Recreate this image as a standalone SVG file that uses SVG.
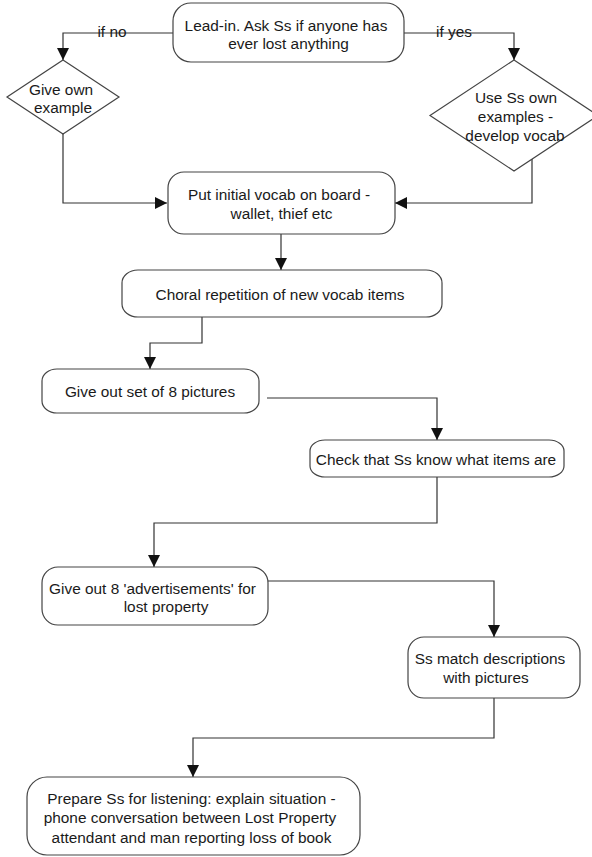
<svg xmlns="http://www.w3.org/2000/svg" width="592" height="857" viewBox="0 0 592 857">
<defs>
<style>
.box{fill:#fff;stroke:#444;stroke-width:1.2}
.ln{fill:none;stroke:#333;stroke-width:1.2}
.t{font-family:"Liberation Sans",Arial,sans-serif;font-size:15.4px;fill:#1a1a1a;text-anchor:middle}
</style>
<marker id="arr" markerUnits="userSpaceOnUse" markerWidth="12" markerHeight="12" viewBox="0 0 12 12" refX="12" refY="6" orient="auto">
<path d="M0,0 L12,6 L0,12 Z" fill="#111"/>
</marker>
</defs>
<rect width="592" height="857" fill="#fff"/>
<g id="connectors">
<polyline class="ln" points="173,33 63,33 63,60" marker-end="url(#arr)"/>
<polyline class="ln" points="404,33 514,33 514,60" marker-end="url(#arr)"/>
<polyline class="ln" points="63,134 63,203 167,203" marker-end="url(#arr)"/>
<polyline class="ln" points="532,159 532,203 395,203" marker-end="url(#arr)"/>
<polyline class="ln" points="281,234 281,270" marker-end="url(#arr)"/>
<polyline class="ln" points="202,317 202,343 150,343 150,369" marker-end="url(#arr)"/>
<polyline class="ln" points="267,398 437,398 437,440" marker-end="url(#arr)"/>
<polyline class="ln" points="437,477 437,523 154,523 154,567" marker-end="url(#arr)"/>
<polyline class="ln" points="268,581 494,581 494,637" marker-end="url(#arr)"/>
<polyline class="ln" points="494,698 494,738 193,738 193,777" marker-end="url(#arr)"/>
<text class="t" x="112" y="37">if no</text>
<text class="t" x="454" y="37">if yes</text>
</g>
<g id="leadin">
<rect class="box" x="173" y="3" width="231" height="59" rx="18" ry="18"/>
<text class="t" x="286" y="30.5">Lead-in. Ask Ss if anyone has</text>
<text class="t" x="288.5" y="48.5">ever lost anything</text>
</g>
<g id="give-own">
<polygon class="box" points="63,60 119,97 63,134 7,97"/>
<text class="t" x="61" y="94.5">Give own</text>
<text class="t" x="63" y="112.5">example</text>
</g>
<g id="use-ss">
<polygon class="box" points="514,60 598,115.5 514,171 430,115.5"/>
<text class="t" x="516" y="102.5">Use Ss own</text>
<text class="t" x="515.5" y="122">examples -</text>
<text class="t" x="515" y="140.5">develop vocab</text>
</g>
<g id="put-vocab">
<rect class="box" x="168" y="172" width="227" height="62" rx="16" ry="16"/>
<text class="t" x="279" y="199.5">Put initial vocab on board -</text>
<text class="t" x="281.5" y="218.5">wallet, thief etc</text>
</g>
<g id="choral">
<rect class="box" x="122" y="270" width="320" height="47" rx="16" ry="13"/>
<text class="t" x="280" y="299.5">Choral repetition of new vocab items</text>
</g>
<g id="give-pictures">
<rect class="box" x="42" y="369" width="217" height="44" rx="15" ry="12"/>
<text class="t" x="150" y="396.5">Give out set of 8 pictures</text>
</g>
<g id="check">
<rect class="box" x="310" y="440" width="254" height="37" rx="15" ry="11"/>
<text class="t" x="436" y="464.5">Check that Ss know what items are</text>
</g>
<g id="give-ads">
<rect class="box" x="42" y="567" width="226" height="58" rx="16" ry="16"/>
<text class="t" x="152.5" y="593.5">Give out 8 'advertisements' for</text>
<text class="t" x="166" y="612">lost property</text>
</g>
<g id="match">
<rect class="box" x="408" y="637" width="172" height="61" rx="16" ry="16"/>
<text class="t" x="490" y="663.5">Ss match descriptions</text>
<text class="t" x="486" y="683">with pictures</text>
</g>
<g id="prepare">
<rect class="box" x="27" y="777" width="333" height="78" rx="20" ry="20"/>
<text class="t" x="191.5" y="803.5">Prepare Ss for listening: explain situation -</text>
<text class="t" x="190" y="823">phone conversation between Lost Property</text>
<text class="t" x="191.5" y="842.5">attendant and man reporting loss of book</text>
</g>
</svg>
